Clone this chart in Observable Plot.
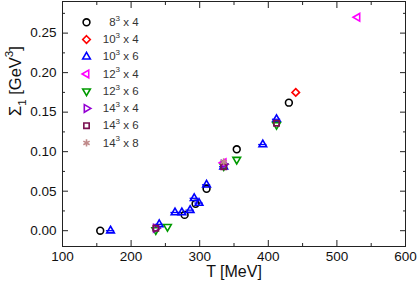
<!DOCTYPE html>
<html><head><meta charset="utf-8">
<script src="https://cdn.jsdelivr.net/npm/d3@7"></script>
<script src="https://cdn.jsdelivr.net/npm/@observablehq/plot@0.6"></script>
<style>body{margin:0;background:#fff}svg{display:block}</style>
</head><body><div id="chart"></div>
<script>
// ---- data ----
const seriesNames = ["8³ x 4","10³ x 4","10³ x 6","12³ x 4","12³ x 6","14³ x 4","14³ x 6","14³ x 8"];
const seriesColors = ["#000000","#ff0000","#0000ff","#ff00ff","#009a00","#9400d3","#7a1050","#c08a8a"];
const T_8x4  = [155, 278, 294, 310, 354, 430];
const S_8x4  = [0.000, 0.020, 0.034, 0.053, 0.103, 0.162];
const T_10x4 = [440];
const S_10x4 = [0.175];
const T_10x6 = [170, 241, 264, 274, 286, 292, 299, 310, 335, 392, 412];
const S_10x6 = [0.000, 0.008, 0.023, 0.023, 0.026, 0.041, 0.035, 0.058, 0.081, 0.109, 0.141];
const E_10x6 = [6, 6, 6, 6, 6, 6, 6, 6, 6, 6, 6];
const T_12x4 = [335, 530];
const S_12x4 = [0.086, 0.270];
const T_12x6 = [236, 253, 335, 354, 412];
const S_12x6 = [0.001, 0.005, 0.082, 0.090, 0.134];
const T_14x4 = [236, 335];
const S_14x4 = [0.003, 0.084];
const T_14x6 = [236, 335, 412];
const S_14x6 = [0.003, 0.081, 0.136];
const T_14x8 = [335];
const S_14x8 = [0.087];
const xMajor = [100, 200, 300, 400, 500, 600];
const xMinor = [150, 250, 350, 450, 550];
const yMajor = [0.00, 0.05, 0.10, 0.15, 0.20, 0.25];
const yMinor = [0.025, 0.075, 0.125, 0.175, 0.225, 0.275];

// ---- symbols ----
function tri(angle) {
  return {draw(ctx, size) {
    const R = Math.sqrt(size / Math.PI) * 1.3;
    for (let k = 0; k < 3; ++k) {
      const a = angle + k * 2 * Math.PI / 3;
      const px = R * Math.cos(a), py = R * Math.sin(a);
      k ? ctx.lineTo(px, py) : ctx.moveTo(px, py);
    }
    ctx.closePath();
  }};
}
const seriesSymbols = ["circle", "diamond2", tri(-Math.PI/2), tri(Math.PI), tri(Math.PI/2), tri(0), "square2", "asterisk"];
const seriesT = [T_8x4, T_10x4, T_10x6, T_12x4, T_12x6, T_14x4, T_14x6, T_14x8];
const seriesS = [S_8x4, S_10x4, S_10x6, S_12x4, S_12x6, S_14x4, S_14x6, S_14x8];

const drawOrder = [0, 1, 2, 4, 3, 5, 6, 7];

const marks = [Plot.frame({stroke: "#222", strokeWidth: 1})];

const errRows = T_10x6.map((t, i) => ({T: t, S: S_10x6[i], e: E_10x6[i]}));
marks.push(Plot.ruleY(errRows, {y: "S", x1: d => d.T - d.e, x2: d => d.T + d.e, stroke: seriesColors[2], strokeWidth: 1.3}));

for (const si of drawOrder) {
  const rows = seriesT[si].map((t, i) => ({T: t, S: seriesS[si][i]}));
  marks.push(Plot.dot(rows, {x: "T", y: "S", symbol: seriesSymbols[si], r: 3.4,
    stroke: seriesColors[si], strokeWidth: 1.6, fill: si === 7 ? seriesColors[si] : "none"}));
}

// legend
const legRows = seriesNames.map((n, i) => ({i, name: n, y: 0.2637 - i * 0.0218}));
legRows.forEach(d => {
  marks.push(Plot.dot([d], {x: () => 135, y: "y", symbol: seriesSymbols[d.i], r: 3.4,
    stroke: seriesColors[d.i], strokeWidth: 1.6, fill: d.i === 7 ? seriesColors[d.i] : "none"}));
});
marks.push(Plot.text(legRows, {x: () => 211, y: "y", text: "name", textAnchor: "end",
  fontSize: 11.5, fill: "#333", className: "rich"}));

// axes
const tf = () => "";
for (const anchor of ["bottom", "top"]) {
  marks.push(Plot.axisX(xMajor, {anchor, tickSize: -6, tickFormat: tf, label: null, stroke: "#222"}));
  marks.push(Plot.axisX(xMinor, {anchor, tickSize: -3, tickFormat: tf, label: null, stroke: "#222"}));
}
for (const anchor of ["left", "right"]) {
  marks.push(Plot.axisY(yMajor, {anchor, tickSize: -6, tickFormat: tf, label: null, stroke: "#222"}));
  marks.push(Plot.axisY(yMinor, {anchor, tickSize: -3, tickFormat: tf, label: null, stroke: "#222"}));
}
marks.push(Plot.axisX(xMajor, {anchor: "bottom", tickSize: 0, tickPadding: 5, tickFormat: d => String(d),
  label: null, fontSize: 13.5, fill: "#111"}));
marks.push(Plot.axisY(yMajor, {anchor: "left", tickSize: 0, tickPadding: 6, tickFormat: d3.format(".2f"),
  label: null, fontSize: 13.5, fill: "#111"}));
marks.push(Plot.text(["T [MeV]"], {frameAnchor: "bottom", dy: 30, lineAnchor: "bottom",
  text: d => d, fontSize: 16, fill: "#111"}));
marks.push(Plot.text(["Σ₁ [GeV³]"], {frameAnchor: "left", dx: -47, dy: -8, rotate: -90,
  text: d => d, fontSize: 16.5, fill: "#111", className: "rich"}));

const chart = Plot.plot({
  width: 417, height: 284,
  marginLeft: 62, marginRight: 12, marginTop: 1, marginBottom: 38,
  style: {fontFamily: "'Liberation Sans', Arial, sans-serif", background: "#fff", overflow: "visible"},
  x: {domain: [100, 600], axis: null},
  y: {domain: [-0.02, 0.29], axis: null},
  marks
});
document.getElementById("chart").appendChild(chart);

// turn ³ / ₁ into real super/subscript tspans
d3.select(chart).selectAll("g.rich text").each(function() {
  const s = this.textContent;
  const sel = d3.select(this);
  sel.text(null);
  let shift = 0;
  for (const ch of s) {
    let target = 0, c = ch, small = false;
    if (ch === "³") { target = -0.45; c = "3"; small = true; }
    else if (ch === "₁") { target = 0.3; c = "1"; small = true; }
    const t = sel.append("tspan").text(c);
    if (target !== shift) { t.attr("dy", ((target - shift) * (small ? 1 / 0.7 : 1)).toFixed(3) + "em"); }
    if (small) t.attr("font-size", "70%");
    shift = target;
  }
});
</script>
</body></html>
